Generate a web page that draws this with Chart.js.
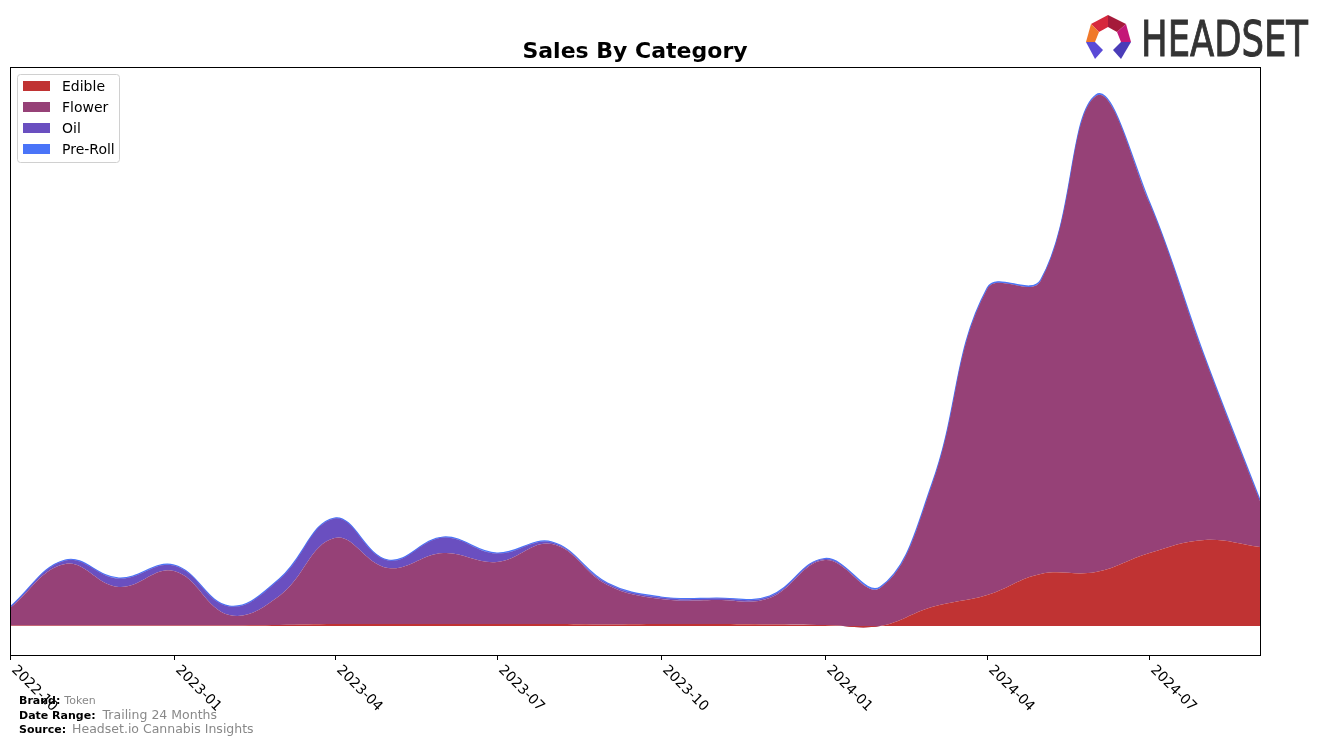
<!DOCTYPE html>
<html>
<head>
<meta charset="utf-8">
<script src="https://cdn.jsdelivr.net/npm/chart.js@4.4.1/dist/chart.umd.min.js"></script>
<style>
  html, body { margin: 0; padding: 0; background: #fff; }
  #chart { display: block; }
</style>
</head>
<body>
<canvas id="chart" width="1324" height="747"></canvas>
<script>
// monthly data, Oct 2022 - Sep 2024 (arbitrary units)
const months = ['2022-10','2022-11','2022-12','2023-01','2023-02','2023-03','2023-04','2023-05',
  '2023-06','2023-07','2023-08','2023-09','2023-10','2023-11','2023-12','2024-01',
  '2024-02','2024-03','2024-04','2024-05','2024-06','2024-07','2024-08','2024-09'];
const edible = [0.5,0.5,0.5,0.5,0.5,1,2,2,2,2,2,1.5,2,2,1.5,1,0,19,31,52,54,73,86,79];
const flower = [17.5,61.5,38.5,54.5,10.5,29,86,56,71,62,80,39.5,25,24,26.5,65,38,122,306,293,476,350,182,46];
const oil = [0.5,3.5,8.5,5.5,8.5,16.5,19.5,7.5,15.5,8.5,1.5,1.5,1.5,1.5,1.5,1,0,0,0,0,0,0,0,0];
const preRoll = [0.5,0.5,0.5,0.5,0.5,0.5,0.5,0.5,0.5,0.5,0.5,0.5,0.5,0.5,0.5,0.5,1,1,1,1,1,1,1,1];
const tickMonths = ['2022-10','2023-01','2023-04','2023-07','2023-10','2024-01','2024-04','2024-07'];

const seriesNames = ['Edible', 'Flower', 'Oil', 'Pre-Roll'];
const seriesColors = ['#c03333', '#964177', '#6a4fc0', '#4a74f8'];

// days since the first month, so spacing follows the calendar
function dayOf(m) {
  const [y, mo] = m.split('-').map(Number);
  return (Date.UTC(y, mo - 1, 1) - Date.UTC(2022, 9, 1)) / 86400000;
}

function points(values) {
  return months.map((m, i) => ({ x: dayOf(m), y: values[i] }));
}

const allSeries = [edible, flower, oil, preRoll];
const datasets = allSeries.map((vals, i) => ({
  label: seriesNames[i],
  data: points(vals),
  backgroundColor: seriesColors[i],
  borderColor: seriesColors[i],
  borderWidth: i === 3 ? 1.2 : 0,
  fill: i === 0 ? 'origin' : '-1',
  pointRadius: 0,
  tension: 0.4
}));

const decor = {
  id: 'decor',
  beforeDraw(chart) {
    const ctx = chart.ctx;
    ctx.save();
    ctx.fillStyle = '#fff';
    ctx.fillRect(0, 0, chart.width, chart.height);
    ctx.restore();
  },
  afterDraw(chart) {
    const ctx = chart.ctx;
    const a = chart.chartArea;
    const xs = chart.scales.x;
    ctx.save();

    // frame
    ctx.strokeStyle = '#000';
    ctx.lineWidth = 1;
    ctx.strokeRect(a.left + 0.5, a.top + 0.5, a.right - a.left, a.bottom - a.top);

    // x ticks + rotated labels
    ctx.font = '14px "DejaVu Sans"';
    ctx.fillStyle = '#000';
    tickMonths.forEach(m => {
      const x = Math.round(xs.getPixelForValue(dayOf(m))) + 0.5;
      ctx.beginPath();
      ctx.moveTo(x, a.bottom);
      ctx.lineTo(x, a.bottom + 5);
      ctx.stroke();
      ctx.save();
      ctx.translate(x + 8, a.bottom + 8);
      ctx.rotate(Math.PI / 4);
      ctx.textAlign = 'left';
      ctx.textBaseline = 'top';
      ctx.fillText(m, 0, 0);
      ctx.restore();
    });

    // title
    ctx.font = 'bold 22px "DejaVu Sans"';
    ctx.textAlign = 'center';
    ctx.textBaseline = 'middle';
    ctx.fillText('Sales By Category', (a.left + a.right) / 2, 52);

    // legend
    ctx.fillStyle = '#fff';
    ctx.strokeStyle = '#d0d0d0';
    ctx.beginPath();
    ctx.roundRect(17.5, 74.5, 102, 88, 3);
    ctx.fill();
    ctx.stroke();
    ctx.font = '14px "DejaVu Sans"';
    ctx.textAlign = 'left';
    seriesNames.forEach((n, i) => {
      const y = 86 + i * 21;
      ctx.fillStyle = seriesColors[i];
      ctx.fillRect(23, y - 5, 27, 10);
      ctx.fillStyle = '#000';
      ctx.fillText(n, 62, y + 1);
    });

    // footer
    const foot = [
      ['Brand:', 'Token', 701, 11, 4],
      ['Date Range:', 'Trailing 24 Months', 716, 12.5, 7],
      ['Source:', 'Headset.io Cannabis Insights', 730, 12.5, 6]
    ];
    foot.forEach(([k, v, y, fs, gap]) => {
      ctx.font = 'bold 11px "DejaVu Sans"';
      ctx.fillStyle = '#000';
      ctx.fillText(k, 19, y);
      const w = ctx.measureText(k).width;
      ctx.font = fs + 'px "DejaVu Sans"';
      ctx.fillStyle = '#888';
      ctx.fillText(v, 19 + w + gap, y);
    });

    // logo
    const poly = (pts, c) => {
      ctx.fillStyle = c;
      ctx.beginPath();
      ctx.moveTo(pts[0][0], pts[0][1]);
      pts.slice(1).forEach(p => ctx.lineTo(p[0], p[1]));
      ctx.closePath();
      ctx.fill();
    };
    poly([[1091,24],[1108,15],[1108,27],[1099,32]], '#d6283c');
    poly([[1108,15],[1126,24],[1117,32],[1108,27]], '#a51a3a');
    poly([[1126,24],[1131,42],[1121,42],[1117,32]], '#c41878');
    poly([[1091,24],[1099,32],[1095,42],[1086,42]], '#f0782a');
    poly([[1086,42],[1095,42],[1103,50],[1095,59]], '#5a4ad6');
    poly([[1131,42],[1121,42],[1113,50],[1121,59]], '#4a3cb8');
    ctx.save();
    ctx.font = '49px "DejaVu Sans"';
    const tw = ctx.measureText('HEADSET').width;
    ctx.translate(1141, 56);
    ctx.scale(167 / tw, 1);
    ctx.fillStyle = '#333';
    ctx.strokeStyle = '#333';
    ctx.lineWidth = 1;
    ctx.textBaseline = 'alphabetic';
    ctx.fillText('HEADSET', 0, 0);
    ctx.strokeText('HEADSET', 0, 0);
    ctx.restore();

    ctx.restore();
  }
};

new Chart(document.getElementById('chart'), {
  type: 'line',
  data: { datasets: datasets },
  options: {
    responsive: false,
    animation: false,
    devicePixelRatio: 1,
    layout: { padding: { left: 10, right: 64, top: 67, bottom: 92 } },
    plugins: { legend: { display: false }, title: { display: false }, tooltip: { enabled: false } },
    scales: {
      x: { type: 'linear', min: 0, max: dayOf('2024-09'), display: false },
      y: { stacked: true, min: -29, max: 559, display: false }
    }
  },
  plugins: [decor]
});
</script>
</body>
</html>
